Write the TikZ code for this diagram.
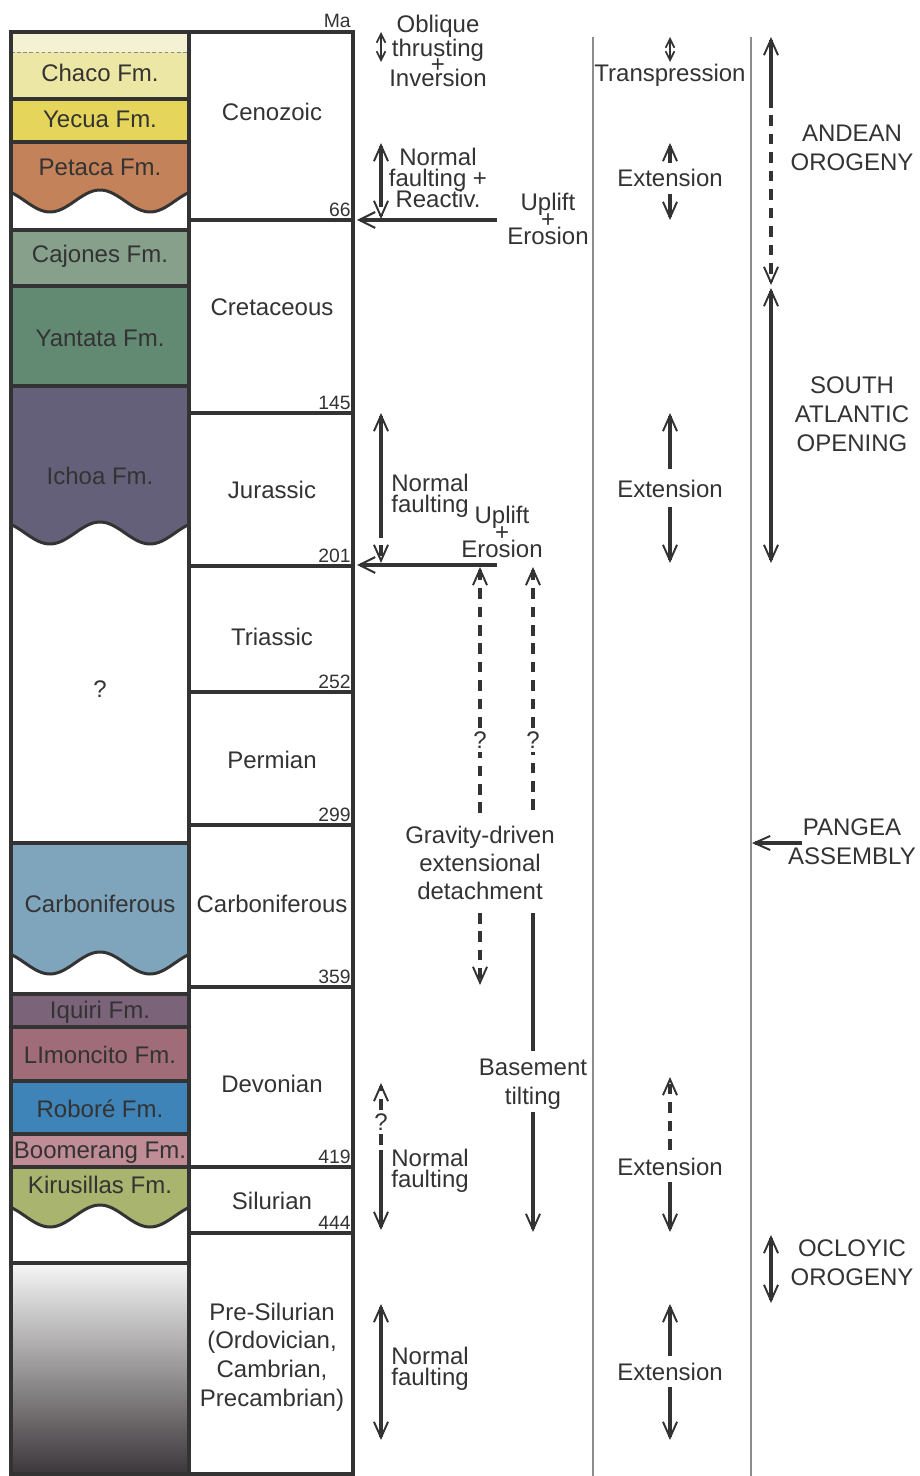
\documentclass[tikz,border=0pt]{standalone}
\usepackage{fontspec}
\setmainfont{Liberation Sans}
\usepackage{tikz}
\usetikzlibrary{arrows.meta,positioning}
\definecolor{ink}{RGB}{51,51,51}
\definecolor{grayrule}{RGB}{140,140,140}
\definecolor{chacotop}{RGB}{244,242,211}
\definecolor{chaco}{RGB}{237,231,165}
\definecolor{yecua}{RGB}{229,214,91}
\definecolor{petaca}{RGB}{195,130,90}
\definecolor{cajones}{RGB}{134,160,140}
\definecolor{yantata}{RGB}{98,138,115}
\definecolor{ichoa}{RGB}{100,96,122}
\definecolor{carbon}{RGB}{127,165,189}
\definecolor{iquiri}{RGB}{123,100,121}
\definecolor{limon}{RGB}{160,108,119}
\definecolor{robore}{RGB}{62,132,184}
\definecolor{boomer}{RGB}{192,140,149}
\definecolor{kirus}{RGB}{169,180,110}
\definecolor{basetop}{RGB}{246,246,246}
\definecolor{basemid}{RGB}{152,144,147}
\definecolor{basebot}{RGB}{60,55,58}
\tikzstyle{colframe} = [draw=ink, line width=2.3pt]
\tikzstyle{wave} = [draw=ink, line width=1.7pt]
\tikzstyle{divider} = [draw=grayrule, line width=1.6pt]
\tikzstyle{unit} = [text=ink, font=\fontsize{13.66}{16.4}\selectfont, inner sep=0pt, anchor=base]
\tikzstyle{block} = [text=ink, font={\fontsize{13.66}{16.4}\selectfont\lineskiplimit=-20pt}, inner sep=0pt, align=center]
\tikzstyle{tight} = [block, font={\fontsize{13.66}{11.9}\selectfont\lineskiplimit=-20pt}]
\tikzstyle{stack} = [block, font={\fontsize{13.66}{9.7}\selectfont\lineskiplimit=-20pt}]
\tikzstyle{qmark} = [text=ink, font=\fontsize{13.66}{16.4}\selectfont, inner sep=2pt]
\tikzstyle{ma} = [text=ink, font=\fontsize{11}{12}\selectfont, inner sep=0pt, anchor=base east]
\tikzstyle{shaft} = [draw=ink, line width=1.8pt]
\tikzstyle{arrow} = [shaft, -{Straight Barb[length=9pt,width=8pt,line width=1.1pt]}]
\tikzstyle{twoway} = [shaft, {Straight Barb[length=9pt,width=8pt,line width=1.1pt]}-{Straight Barb[length=9pt,width=8pt,line width=1.1pt]}]
\tikzstyle{shortway} = [draw=ink, line width=1.5pt, {Straight Barb[length=5pt,width=5pt,line width=1pt]}-{Straight Barb[length=5pt,width=5pt,line width=1pt]}]
\tikzstyle{erosion} = [draw=ink, line width=2pt, -{Straight Barb[length=9pt,width=9pt,line width=1.2pt]}]
\tikzstyle{broken} = [dash pattern=on 6pt off 4.5pt]

\begin{document}
\begin{tikzpicture}[x=0.02cm, y=-0.02cm]
\useasboundingbox (0,0) rectangle (919,1476);

% formations
\fill[chacotop] (11,32) rectangle (189,52);
\fill[chaco] (11,52) rectangle (189,99);
\fill[yecua] (11,99) rectangle (189,142);
\fill[cajones] (11,230) rectangle (189,286);
\fill[yantata] (11,286) rectangle (189,386);
\fill[iquiri] (11,994) rectangle (189,1027);
\fill[limon] (11,1027) rectangle (189,1081);
\fill[robore] (11,1081) rectangle (189,1134);
\fill[boomer] (11,1134) rectangle (189,1167);
\shade[top color=basetop, middle color=basemid, bottom color=basebot] (11,1263) rectangle (189,1474);
\draw[grayrule, line width=0.5pt, dash pattern=on 2pt off 1.5pt] (11,52) -- (189,52);
\foreach \ya/\yw/\fc in {142/201/petaca, 386/533/ichoa, 843/963/carbon, 1167/1216/kirus}{
  \fill[\fc] (11,\ya) -- (189,\ya) -- plot[domain=189:11, samples=60] (\x,{\yw-11*cos(3.6*\x)}) -- cycle;
  \draw[wave] plot[domain=11:189, samples=60] (\x,{\yw-11*cos(3.6*\x)});
}

% column frame and ages
\draw[colframe] (11,32) rectangle (353,1474);
\draw[colframe] (189,32) -- (189,1474);
\foreach \y in {99,142,230,286,386,843,994,1027,1081,1134,1167,1263}
  \draw[colframe] (11,\y) -- (189,\y);
\foreach \y/\age in {220/66,413/145,566/201,692/252,825/299,987/359,1167/419,1233/444}{
  \draw[colframe] (189,\y) -- (353,\y);
  \node[ma] (n\age) at (351,\y-3.5) {\age};
}
\node[ma] (ma) at (351,28) {Ma};
\draw[divider] (593,37) -- (593,1476);
\draw[divider] (751,37) -- (751,1476);

\node[unit] (chacofm) at (100,82) {Chaco Fm.};
\node[unit] (yecuafm) at (100,128) {Yecua Fm.};
\node[unit] (petacafm) at (100,176) {Petaca Fm.};
\node[unit] (cajonesfm) at (100,263) {Cajones Fm.};
\node[unit] (yantatafm) at (100,347) {Yantata Fm.};
\node[unit] (ichoafm) at (100,484) {Ichoa Fm.};
\node[unit] (unknown) at (100,697) {?};
\node[unit] (carbfm) at (100,912) {Carboniferous};
\node[unit] (iquirifm) at (100,1018) {Iquiri Fm.};
\node[unit] (limonfm) at (100,1063) {LImoncito Fm.};
\node[unit] (roborefm) at (100,1117) {Roboré Fm.};
\node[unit] (boomerfm) at (100,1158) {Boomerang Fm.};
\node[unit] (kirusfm) at (100,1193) {Kirusillas Fm.};

\node[unit] (cenozoic) at (272,121) {Cenozoic};
\node[unit] (cretaceous) at (272,316) {Cretaceous};
\node[unit] (jurassic) at (272,498) {Jurassic};
\node[unit] (triassic) at (272,645) {Triassic};
\node[unit] (permian) at (272,768) {Permian};
\node[unit] (carboniferous) at (272,912) {Carboniferous};
\node[unit] (devonian) at (272,1092) {Devonian};
\node[unit] (silurian) at (272,1209) {Silurian};
\node[block] (presilurian) at (272,1357) {Pre-Silurian\\(Ordovician,\\Cambrian,\\Precambrian)};

% tectonic events
\node[block, font={\fontsize{13.66}{13.6}\selectfont\lineskiplimit=-20pt}] (oblique) at (438,51) {Oblique\\thrusting\\[-4.1pt]+\\[-5.7pt]Inversion};
\node[tight] (reactiv) at (438,178) {Normal\\faulting +\\Reactiv.};
\node[stack] (uplift1) at (548,219) {Uplift\\+\\Erosion};
\node[tight, anchor=west, align=left] (nfjur) at (391,496) {Normal\\faulting};
\node[stack] (uplift2) at (502,532) {Uplift\\+\\Erosion};
\node[block, font={\fontsize{13.66}{16.1}\selectfont}] (gravity) at (480,863) {Gravity-driven\\extensional\\detachment};
\node[block] (basement) at (533,1084) {Basement\\tilting};
\node[tight, anchor=west, align=left] (nfdev) at (391,1171) {Normal\\faulting};
\node[tight, anchor=west, align=left] (nfpre) at (391,1369) {Normal\\faulting};
\node[qmark] (q1) at (480,740) {?};
\node[qmark] (q2) at (533,740) {?};
\node[qmark] (q3) at (381,1122) {?};

\node[unit] (transp) at (670,82) {Transpression};
\node[unit] (ext1) at (670,187) {Extension};
\node[unit] (ext2) at (670,497) {Extension};
\node[unit] (ext3) at (670,1175) {Extension};
\node[unit] (ext4) at (670,1380) {Extension};

\node[block] (andean) at (852,148) {ANDEAN\\OROGENY};
\node[block] (southatl) at (852,414) {SOUTH\\ATLANTIC\\OPENING};
\node[block] (pangea) at (852,842) {PANGEA\\ASSEMBLY};
\node[block] (ocloyic) at (852,1263) {OCLOYIC\\OROGENY};

% arrow ends
\coordinate (obtop) at (381,32);
\coordinate (obbot) at (381,62);
\coordinate (rftop) at (381,143);
\coordinate (rfmid) at (381,196);
\coordinate (rfbot) at (381,219);
\coordinate (up1s) at (497,220);
\coordinate (up1e) at (357,220);
\coordinate (njtop) at (381,413);
\coordinate (njmid) at (381,527);
\coordinate (njbot) at (381,563);
\coordinate (up2s) at (497,565);
\coordinate (up2e) at (357,565);
\coordinate (g1bot) at (480,813);
\coordinate (g1top) at (480,567);
\coordinate (g2bot) at (533,810);
\coordinate (g2top) at (533,567);
\coordinate (gdtop) at (480,913);
\coordinate (gdbot) at (480,985);
\coordinate (bttop) at (533,913);
\coordinate (btbot) at (533,1232);
\coordinate (dvtop) at (381,1083);
\coordinate (dvmid) at (381,1150);
\coordinate (dvbot) at (381,1230);
\coordinate (pstop) at (381,1304);
\coordinate (psbot) at (381,1440);
\coordinate (trtop) at (670,37);
\coordinate (trbot) at (670,62);
\coordinate (e1top) at (670,143);
\coordinate (e1bot) at (670,220);
\coordinate (e2top) at (670,413);
\coordinate (e2bot) at (670,563);
\coordinate (e3top) at (670,1077);
\coordinate (e3bot) at (670,1232);
\coordinate (e4top) at (670,1304);
\coordinate (e4bot) at (670,1440);
\coordinate (antop) at (771,37);
\coordinate (anmid) at (771,97);
\coordinate (anbot) at (771,285);
\coordinate (satop) at (771,288);
\coordinate (sabot) at (771,563);
\coordinate (pgs) at (802,843);
\coordinate (pge) at (752,843);
\coordinate (octop) at (771,1235);
\coordinate (ocbot) at (771,1303);

\draw[shortway] (obtop) -- (obbot);
\draw[arrow] (rfmid) -- (rftop);
\draw[arrow, broken] (rfmid) -- (rfbot);
\draw[erosion] (up1s) -- (up1e);
\draw[arrow] (njmid) -- (njtop);
\draw[arrow, broken] (njmid) -- (njbot);
\draw[erosion] (up2s) -- (up2e);
\draw[shaft, broken] (g1bot) -- (q1.south);
\draw[arrow, broken] (q1.north) -- (g1top);
\draw[shaft, broken] (g2bot) -- (q2.south);
\draw[arrow, broken] (q2.north) -- (g2top);
\draw[arrow, broken] (gdtop) -- (gdbot);
\draw[shaft, shorten >=4.5pt] (bttop) -- (basement.north);
\draw[arrow, shorten <=1.5pt] (basement.south) -- (btbot);
\draw[arrow, broken] (q3.north) -- (dvtop);
\draw[shaft, broken] (q3.south) -- (dvmid);
\draw[arrow] (dvmid) -- (dvbot);
\draw[twoway] (pstop) -- (psbot);

\draw[shortway] (trtop) -- (trbot);
\draw[arrow, shorten <=3.8pt] (ext1.north) -- (e1top);
\draw[arrow, shorten <=3.5pt] (ext1.south) -- (e1bot);
\draw[arrow, shorten <=5.7pt] (ext2.north) -- (e2top);
\draw[arrow, shorten <=5.3pt] (ext2.south) -- (e2bot);
\draw[arrow, broken, shorten <=4.4pt] (ext3.north) -- (e3top);
\draw[arrow, shorten <=3.8pt] (ext3.south) -- (e3bot);
\draw[arrow, shorten <=3.5pt] (ext4.north) -- (e4top);
\draw[arrow, shorten <=3.8pt] (ext4.south) -- (e4bot);

\draw[arrow] (anmid) -- (antop);
\draw[arrow, broken] (anmid) -- (anbot);
\draw[twoway] (satop) -- (sabot);
\draw[arrow] (pgs) -- (pge);
\draw[twoway] (octop) -- (ocbot);
\end{tikzpicture}
\end{document}
